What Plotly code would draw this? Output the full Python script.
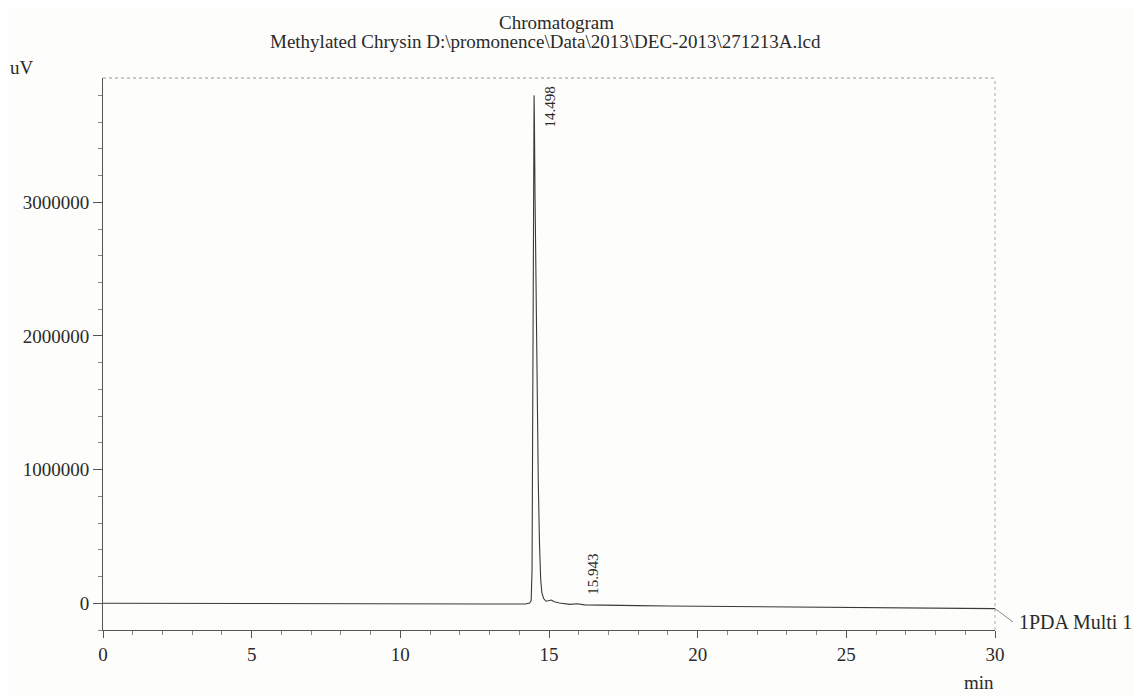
import plotly.graph_objects as go

# ---- data ----
time_min = [0, 1, 2, 3, 4, 5, 6, 7, 8, 9, 10, 11, 12, 13, 13.8, 14.2, 14.35, 14.40,
            14.43, 14.45, 14.47, 14.485, 14.498, 14.51, 14.53, 14.56, 14.60, 14.64,
            14.68, 14.72, 14.76, 14.82, 14.90, 15.00, 15.08, 15.18, 15.35, 15.70,
            15.943, 16.2, 17, 18, 19, 20, 21, 22, 23, 24, 25, 26, 27, 28, 29, 30]
signal_uV = [0, 0, -1000, -1000, -2000, -2000, -2000, -3000, -3000, -3000, -4000, -4000,
             -5000, -5000, -6000, -5000, 2000, 20000,
             250000, 1200000, 2850000, 3550000, 3800000, 3600000, 3050000, 2300000, 1500000, 900000,
             450000, 180000, 80000, 35000, 15000, 20000, 24000, 12000, 2000, -8000,
             -4000, -12000, -16000, -18000, -20000, -22000, -24000, -26000, -28000, -30000,
             -32000, -33000, -35000, -36000, -38000, -40000]

peak_times = [14.498, 15.943]
peak_labels = ["14.498", "15.943"]
peak_label_y = [3710000, 45000]
peak_label_anchor = ["middle", "bottom"]

x_ticks = [0, 5, 10, 15, 20, 25, 30]
y_ticks = [0, 1000000, 2000000, 3000000]
y_tick_labels = ["0", "1000000", "2000000", "3000000"]

title_line1 = "Chromatogram"
title_line2 = "Methylated Chrysin D:\\promonence\\Data\\2013\\DEC-2013\\271213A.lcd"
channel_name = "1PDA Multi 1"

FONT = "Liberation Serif"
INK = "#2a2a2a"

fig = go.Figure()
fig.add_trace(go.Scatter(x=time_min, y=signal_uV, mode="lines",
                         line=dict(color="#3a3a3a", width=1.1), showlegend=False,
                         hoverinfo="skip"))

fig.update_layout(
    width=1142, height=696,
    margin=dict(l=95, r=155, t=70, b=74),
    paper_bgcolor="#fdfdfb", plot_bgcolor="#fdfdfb",
    font=dict(family=FONT, size=19, color=INK),
    showlegend=False,
)

fig.update_xaxes(range=[0, 30], tickvals=x_ticks, ticks="outside", ticklen=7,
                 tickcolor="#555", tickwidth=1,
                 minor=dict(dtick=1, ticks="outside", ticklen=4, tickcolor="#888"),
                 showgrid=False, zeroline=False, showline=True, linecolor="#555",
                 linewidth=1, mirror=False,
                 tickfont=dict(family=FONT, size=19, color=INK))
fig.update_yaxes(range=[-200000, 3930000], tickvals=y_ticks, ticktext=y_tick_labels,
                 ticks="outside", ticklen=9, tickcolor="#555", tickwidth=1,
                 minor=dict(dtick=200000, ticks="outside", ticklen=4, tickcolor="#888"),
                 showgrid=False, zeroline=False, showline=True, linecolor="#555",
                 linewidth=1, mirror=False,
                 tickfont=dict(family=FONT, size=19, color=INK))

# lighter dotted top and right borders of the frame
fig.add_shape(type="line", xref="paper", yref="paper", x0=0, x1=1, y0=1, y1=1,
              line=dict(color="#999", width=1, dash="dot"))
fig.add_shape(type="line", xref="paper", yref="paper", x0=1, x1=1, y0=0, y1=1,
              line=dict(color="#aaa", width=1, dash="dot"))

# titles
fig.add_annotation(text=title_line1, xref="paper", yref="paper", x=(556 - 103) / 892,
                   y=(630 - 22) / 552, xanchor="center", yanchor="middle", showarrow=False,
                   font=dict(family=FONT, size=19, color=INK))
fig.add_annotation(text=title_line2, xref="paper", yref="paper", x=(545 - 103) / 892,
                   y=(630 - 42) / 552, xanchor="center", yanchor="middle", showarrow=False,
                   font=dict(family=FONT, size=19, color=INK))
fig.add_annotation(text="uV", xref="paper", yref="paper", x=(8 - 103) / 892,
                   y=(630 - 68) / 552, xanchor="left", yanchor="middle", showarrow=False,
                   font=dict(family=FONT, size=19, color=INK))
fig.add_annotation(text="min", xref="paper", yref="paper", x=(996 - 103) / 892,
                   y=(630 - 682) / 552, xanchor="right", yanchor="middle", showarrow=False,
                   font=dict(family=FONT, size=19, color=INK))

# peak labels
for t, lab, ly, anc in zip(peak_times, peak_labels, peak_label_y, peak_label_anchor):
    fig.add_annotation(text=lab, x=t, y=ly, xref="x", yref="y", textangle=-90,
                       xanchor="center", yanchor=anc, xshift=16, showarrow=False,
                       font=dict(family=FONT, size=15, color=INK))

# channel label with pointer
fig.add_shape(type="line", xref="paper", yref="y", x0=1.0, x1=(1013 - 103) / 892,
              y0=signal_uV[-1], y1=-140000, line=dict(color="#888", width=1))
fig.add_annotation(text=channel_name, xref="paper", yref="y", x=(1017 - 103) / 892,
                   y=-140000, xanchor="left", yanchor="middle", showarrow=False,
                   font=dict(family=FONT, size=20, color=INK))

fig.write_html("out.html")
